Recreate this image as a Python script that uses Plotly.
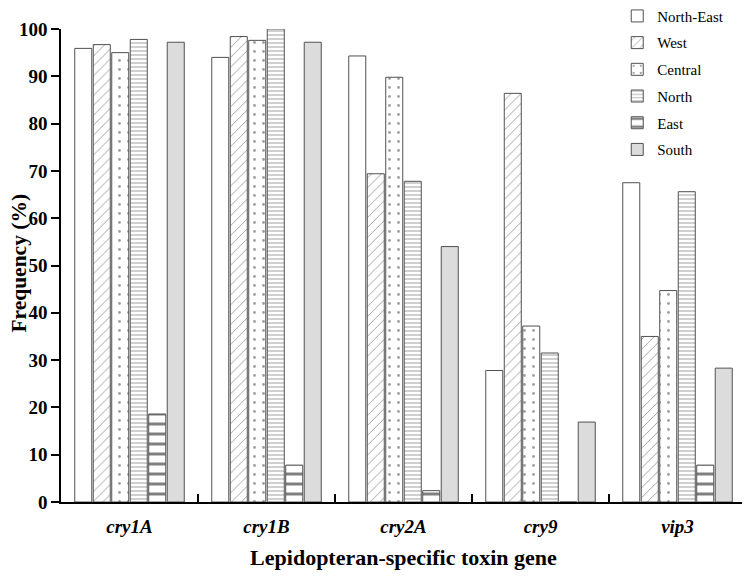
import plotly.graph_objects as go

genes = ["cry1A", "cry1B", "cry2A", "cry9", "vip3"]
gene_labels = ["<b><i>cry1A</i></b>", "<b><i>cry1B</i></b>", "<b><i>cry2A</i></b>",
               "<b><i>cry9</i></b>", "<b><i>vip3</i></b>"]

north_east = [95.9, 94.0, 94.3, 27.8, 67.5]
west = [96.7, 98.4, 69.4, 86.4, 35.0]
central = [95.0, 97.6, 89.8, 37.2, 44.7]
north = [97.8, 100.0, 67.8, 31.5, 65.6]
east = [18.6, 7.8, 2.4, 0.0, 7.8]
south = [97.2, 97.2, 54.0, 16.9, 28.3]

y_ticks = [0, 10, 20, 30, 40, 50, 60, 70, 80, 90, 100]

series = [
    ("North-East", north_east, dict(color="white")),
    ("West", west, dict(color="white", pattern=dict(shape="/", fgcolor="#222", bgcolor="white", size=7, solidity=0.12))),
    ("Central", central, dict(color="white", pattern=dict(shape=".", fgcolor="#444", bgcolor="white", size=9, solidity=0.08))),
    ("North", north, dict(color="white", pattern=dict(shape="-", fgcolor="#777", bgcolor="white", size=4, solidity=0.35))),
    ("East", east, dict(color="white", pattern=dict(shape="-", fgcolor="#000", bgcolor="white", size=10, solidity=0.3))),
    ("South", south, dict(color="#dcdcdc")),
]

fig = go.Figure()
for i, (name, vals, marker) in enumerate(series):
    m = dict(marker)
    m["line"] = dict(color="#505050", width=1)
    fig.add_trace(go.Bar(name=name, x=genes, y=vals, marker=m, legendgroup=name))

font_family = "Liberation Serif, Times New Roman, serif"
fig.update_layout(
    width=742, height=568,
    plot_bgcolor="white", paper_bgcolor="white",
    barmode="group", bargap=0.19, bargroupgap=0.08,
    margin=dict(l=53, r=4, t=21, b=73.5, autoexpand=False),
    font=dict(family=font_family, color="black"),
    legend=dict(x=0.812, y=1.062, xanchor="left", yanchor="top",
                font=dict(size=15, family=font_family), tracegroupgap=4.2,
                bgcolor="rgba(0,0,0,0)"),
    showlegend=True,
    annotations=[dict(text="<b>Frequency (%)</b>", textangle=-90, showarrow=False,
                      xref="paper", yref="paper", x=-0.0606, y=0.505,
                      xanchor="center", yanchor="middle",
                      font=dict(size=21.5, family=font_family, color="black"))],
)
fig.update_xaxes(
    tickmode="array", tickvals=genes, ticktext=gene_labels,
    tickson="boundaries", ticks="inside", ticklen=8, tickwidth=1.5, tickcolor="black",
    showline=True, linecolor="black", linewidth=1.5,
    tickfont=dict(size=19, family=font_family), automargin=False,
    ticklabelstandoff=6,
    title=dict(text="<b>Lepidopteran-specific toxin gene</b>", font=dict(size=22, family=font_family), standoff=14),
    showgrid=False,
)
fig.update_yaxes(
    range=[0, 100], tickmode="array", tickvals=y_ticks,
    ticktext=[f"<b>{v}</b>" for v in y_ticks],
    ticks="outside", ticklen=8, tickwidth=1.5, tickcolor="black",
    showline=True, linecolor="black", linewidth=1.5,
    tickfont=dict(size=19, family=font_family), automargin=False,
    showgrid=False, zeroline=False,
)

fig.write_html("out.html")
